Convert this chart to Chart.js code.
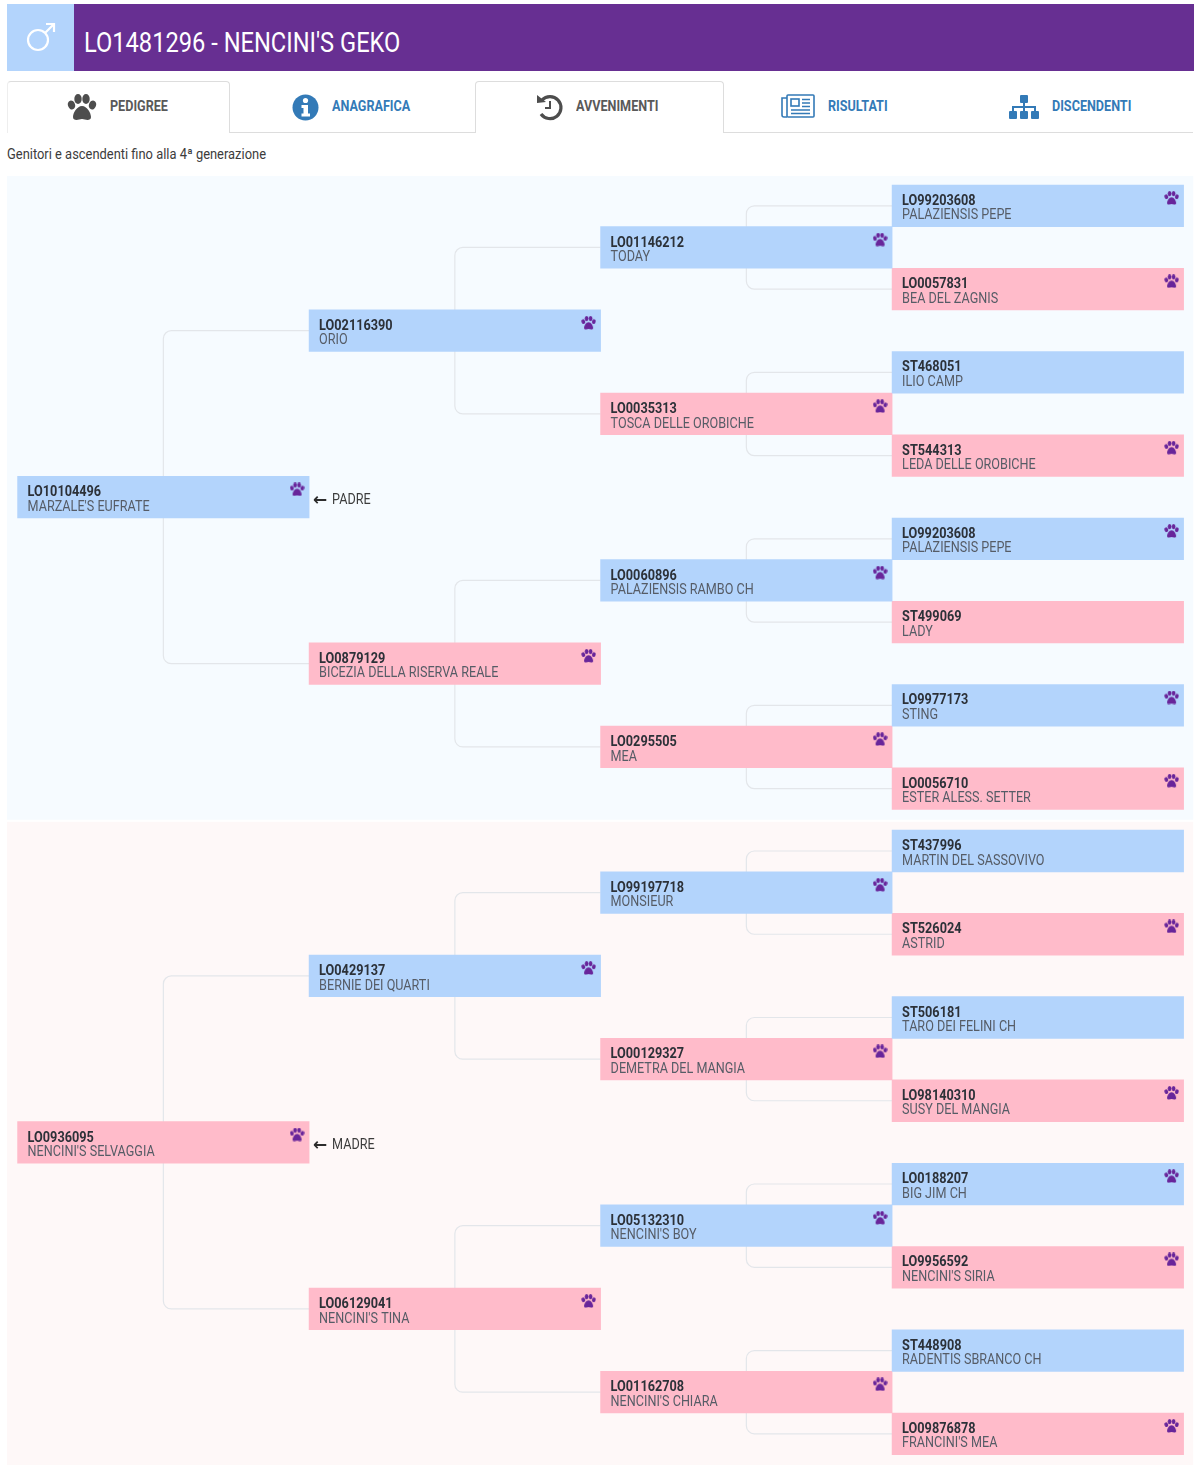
<!DOCTYPE html>
<html>
<head>
<meta charset="utf-8">
<title>Pedigree</title>
<script src="https://cdn.jsdelivr.net/npm/chart.js@4"></script>
<style>
html, body { margin: 0; background: #fff; }
#page { position: relative; width: 1200px; height: 1465px; overflow: hidden; font-family: Roboto, sans-serif; }
#page > div, #page > svg, #page > canvas { position: absolute; }
.t { white-space: nowrap; transform-origin: left center; line-height: 1; }
.tab { font-weight: 700; font-size: 14px; top: 99px; color: #337ab7; transform: scaleX(.9); }
.tab.on { color: #595959; }
.box { box-sizing: border-box; top: 81px; height: 52px; background: #fff; }
</style>
</head>
<body>
<div id="page">
  <div style="left:7px;top:4px;width:67px;height:66.5px;background:#b3d4fc"></div>
  <div style="left:74px;top:4px;width:1119.5px;height:66.5px;background:#672f92"></div>
  <svg style="left:24px;top:22px" width="32" height="32" viewBox="0 0 32 32" fill="none" stroke="#fff" stroke-width="2.2">
    <circle cx="14" cy="18" r="10"/><path d="M21 11 L30 2 M22 2 H30 V10"/>
  </svg>
  <div class="t" style="left:84px;top:29px;font-size:28px;color:#fff;transform:scaleX(.845)">LO1481296 - NENCINI'S GEKO</div>

  <div style="left:7px;top:132px;width:1186px;height:1px;background:#dddddd"></div>
  <div class="box" style="left:7px;width:223px;border:1px solid #dddddd;border-bottom:none;border-left-color:#eeeeee;border-radius:4px 4px 0 0"></div>
  <div class="box" style="left:475px;width:249px;border:1px solid #dddddd;border-bottom:none;border-radius:4px 4px 0 0"></div>

  <svg style="left:67px;top:94px" width="30" height="27" viewBox="0 0 30 27" fill="#4d4d4d">
    <ellipse cx="4.5" cy="11" rx="3.6" ry="4.6" transform="rotate(-18 4.5 11)"/>
    <ellipse cx="11" cy="5" rx="3.7" ry="5"/><ellipse cx="19" cy="5" rx="3.7" ry="5"/>
    <ellipse cx="25.5" cy="11" rx="3.6" ry="4.6" transform="rotate(18 25.5 11)"/>
    <path d="M15 12 C10 12 6 19 6 23 C6 27 11 26 15 25 C19 26 24 27 24 23 C24 19 20 12 15 12Z"/>
  </svg>
  <div class="t tab on" style="left:110px">PEDIGREE</div>

  <svg style="left:292px;top:94px" width="27" height="27" viewBox="0 0 27 27">
    <circle cx="13.5" cy="13.5" r="13" fill="#337ab7"/>
    <circle cx="13.5" cy="6.5" r="2.6" fill="#fff"/>
    <path d="M9.5 11 H16 V19.5 H18 V22.5 H9.5 V19.5 H11.5 V14 H9.5Z" fill="#fff"/>
  </svg>
  <div class="t tab" style="left:332px">ANAGRAFICA</div>

  <svg style="left:536px;top:93px" width="28" height="28" viewBox="0 0 28 28" fill="none" stroke="#4d4d4d" stroke-width="3.2">
    <path d="M6 7 A11 11 0 1 1 5 21"/><path d="M14 8 V15 H9" stroke-width="2"/>
    <path d="M1 2 L10 9 L1 10Z" fill="#4d4d4d" stroke="none"/>
  </svg>
  <div class="t tab on" style="left:576px">AVVENIMENTI</div>

  <svg style="left:781px;top:94px" width="34" height="24" viewBox="0 0 34 24" fill="none" stroke="#337ab7" stroke-width="1.6">
    <rect x="6" y="1" width="27" height="22" rx="1"/><path d="M6 23 H3 Q1 23 1 21 V4 H6"/>
    <rect x="10" y="5" width="8" height="7"/><path d="M21 5.5 H29 M21 9 H29 M21 12.5 H29 M10 16 H29 M10 19.5 H29"/>
  </svg>
  <div class="t tab" style="left:828px">RISULTATI</div>

  <svg style="left:1009px;top:95px" width="30" height="25" viewBox="0 0 30 25" fill="#337ab7">
    <rect x="11" y="0" width="8" height="8" rx="1"/><rect x="0" y="16" width="8" height="8" rx="1"/>
    <rect x="11" y="16" width="8" height="8" rx="1"/><rect x="22" y="16" width="8" height="8" rx="1"/>
    <path d="M14 8 H16 V11 H27 V16 H25 V13 H16 V16 H14 V13 H5 V16 H3 V11 H14Z"/>
  </svg>
  <div class="t tab" style="left:1052px">DISCENDENTI</div>

  <div class="t" style="left:7px;top:148px;font-size:14.5px;color:#3c3c3c;transform:scaleX(.89)">Genitori e ascendenti fino alla 4ª generazione</div>

  <canvas id="tree" width="1200" height="1289" style="left:0;top:176px"></canvas>
</div>

<script>
const nodeIds = [
  "LO99203608", "LO01146212", "LO0057831", "LO02116390", "ST468051", "LO0035313", "ST544313", "LO10104496",
  "LO99203608", "LO0060896", "ST499069", "LO0879129", "LO9977173", "LO0295505", "LO0056710",
  "ST437996", "LO99197718", "ST526024", "LO0429137", "ST506181", "LO00129327", "LO98140310", "LO0936095",
  "LO0188207", "LO05132310", "LO9956592", "LO06129041", "ST448908", "LO01162708", "LO09876878"
];
const nodeNames = [
  "PALAZIENSIS PEPE", "TODAY", "BEA DEL ZAGNIS", "ORIO", "ILIO CAMP", "TOSCA DELLE OROBICHE", "LEDA DELLE OROBICHE", "MARZALE'S EUFRATE",
  "PALAZIENSIS PEPE", "PALAZIENSIS RAMBO CH", "LADY", "BICEZIA DELLA RISERVA REALE", "STING", "MEA", "ESTER ALESS. SETTER",
  "MARTIN DEL SASSOVIVO", "MONSIEUR", "ASTRID", "BERNIE DEI QUARTI", "TARO DEI FELINI CH", "DEMETRA DEL MANGIA", "SUSY DEL MANGIA", "NENCINI'S SELVAGGIA",
  "BIG JIM CH", "NENCINI'S BOY", "NENCINI'S SIRIA", "NENCINI'S TINA", "RADENTIS SBRANCO CH", "NENCINI'S CHIARA", "FRANCINI'S MEA"
];
const nodeSex = [
  "M", "M", "F", "M", "M", "F", "F", "M", "M", "M", "F", "F", "M", "F", "F",
  "M", "M", "F", "M", "M", "F", "F", "F", "M", "M", "F", "F", "M", "F", "F"
];
const nodeColumns = [
  3, 2, 3, 1, 3, 2, 3, 0, 3, 2, 3, 1, 3, 2, 3,
  3, 2, 3, 1, 3, 2, 3, 0, 3, 2, 3, 1, 3, 2, 3
];
const nodeRows = [
  0, 1, 2, 3, 4, 5, 6, 7, 8, 9, 10, 11, 12, 13, 14,
  15.5, 16.5, 17.5, 18.5, 19.5, 20.5, 21.5, 22.5, 23.5, 24.5, 25.5, 26.5, 27.5, 28.5, 29.5
];
const nodeParents = [
  1, 3, 1, 7, 5, 3, 5, -1, 9, 11, 9, 7, 13, 11, 13,
  16, 18, 16, 22, 20, 18, 20, -1, 24, 26, 24, 22, 28, 26, 28
];
const nodeHasPaw = [
  1, 1, 1, 1, 0, 1, 1, 1, 1, 1, 0, 1, 1, 1, 1,
  0, 1, 1, 1, 0, 1, 1, 1, 1, 1, 1, 1, 0, 1, 1
];
const rootLabels = ["PADRE", "MADRE"];
const rootRows = [7, 22.5];

const maleColor = "#b3d4fc";
const femaleColor = "#ffbbca";
const pawColor = "#68259a";
const lineColor = "#e3e6ea";
const colPx = 291.5;
const rowPx = 41.63;

// paw image used as point style
function makePaw() {
  const c = document.createElement("canvas");
  c.width = 15;
  c.height = 14;
  const g = c.getContext("2d");
  g.fillStyle = pawColor;
  g.scale(15 / 30, 14 / 27);
  [[4.5, 11, 3.6, 4.6, -0.3], [11, 5, 3.7, 5, 0], [19, 5, 3.7, 5, 0], [25.5, 11, 3.6, 4.6, 0.3]].forEach(e => {
    g.beginPath();
    g.ellipse(e[0], e[1], e[2], e[3], e[4], 0, Math.PI * 2);
    g.fill();
  });
  g.beginPath();
  g.moveTo(15, 12);
  g.bezierCurveTo(10, 12, 6, 19, 6, 23);
  g.bezierCurveTo(6, 27, 11, 26, 15, 25);
  g.bezierCurveTo(19, 26, 24, 27, 24, 23);
  g.bezierCurveTo(24, 19, 20, 12, 15, 12);
  g.fill();
  return c;
}

function barsFor(sex, color) {
  const data = [];
  nodeIds.forEach((id, i) => {
    if (nodeSex[i] === sex) data.push({ x: [nodeColumns[i], nodeColumns[i] + 1], y: nodeRows[i] });
  });
  return {
    type: "bar",
    indexAxis: "y",
    data: data,
    backgroundColor: color,
    borderWidth: 0,
    barThickness: rowPx,
    grouped: false
  };
}

const pawPoints = [];
nodeIds.forEach((id, i) => {
  if (nodeHasPaw[i]) pawPoints.push({ x: nodeColumns[i] + 1 - 12 / colPx, y: nodeRows[i] - 7.8 / rowPx });
});

function squeezedText(ctx, text, x, y, font, color, sx) {
  ctx.save();
  ctx.translate(x, y);
  ctx.scale(sx, 1);
  ctx.font = font;
  ctx.fillStyle = color;
  ctx.textBaseline = "middle";
  ctx.fillText(text, 0, 0);
  ctx.restore();
}

const backdrop = {
  id: "backdrop",
  beforeDatasetsDraw(chart) {
    const { ctx, scales: { x, y } } = chart;
    const left = x.getPixelForValue(-10.6 / colPx);
    const right = x.getPixelForValue(1175.6 / colPx);
    ctx.save();
    ctx.fillStyle = "#f6fbff";
    ctx.fillRect(left, y.getPixelForValue(-0.716), right - left, y.getPixelForValue(14.75) - y.getPixelForValue(-0.716));
    ctx.fillStyle = "#fef8f8";
    ctx.fillRect(left, y.getPixelForValue(14.8), right - left, y.getPixelForValue(30.25) - y.getPixelForValue(14.8));

    // connectors: down from the middle of the parent, across to the child
    ctx.strokeStyle = lineColor;
    ctx.lineWidth = 1.2;
    nodeParents.forEach((p, i) => {
      if (p < 0) return;
      const px = x.getPixelForValue(nodeColumns[p] + 0.5);
      const py = y.getPixelForValue(nodeRows[p]);
      const cx = x.getPixelForValue(nodeColumns[i]);
      const cy = y.getPixelForValue(nodeRows[i]);
      ctx.beginPath();
      ctx.moveTo(px, py);
      ctx.arcTo(px, cy, cx, cy, 8);
      ctx.lineTo(cx, cy);
      ctx.stroke();
    });
    ctx.restore();
  }
};

const nodeText = {
  id: "nodeText",
  afterDatasetsDraw(chart) {
    const { ctx, scales: { x, y } } = chart;
    nodeIds.forEach((id, i) => {
      const tx = x.getPixelForValue(nodeColumns[i]) + 10;
      const ty = y.getPixelForValue(nodeRows[i]);
      squeezedText(ctx, id, tx, ty - 4.5, "700 14.5px Roboto", "#2c3138", 0.876);
      squeezedText(ctx, nodeNames[i], tx, ty + 10, "400 14.5px Roboto", "#565c66", 0.87);
    });
    rootLabels.forEach((label, i) => {
      const tx = x.getPixelForValue(1);
      const ty = y.getPixelForValue(rootRows[i]) + 3;
      squeezedText(ctx, "←", tx + 4, ty, "700 17px 'DejaVu Sans'", "#2c2c2c", 1);
      squeezedText(ctx, label, tx + 23, ty, "400 14.5px Roboto", "#3c3c3c", 0.87);
    });
  }
};

new Chart(document.getElementById("tree"), {
  type: "bar",
  data: {
    datasets: [
      { type: "scatter", data: pawPoints, pointStyle: makePaw(), pointRadius: 8 },
      barsFor("M", maleColor),
      barsFor("F", femaleColor)
    ]
  },
  options: {
    responsive: false,
    animation: false,
    devicePixelRatio: 1,
    events: [],
    layout: { padding: 0, autoPadding: false },
    plugins: { legend: { display: false }, tooltip: { enabled: false } },
    scales: {
      x: { type: "linear", display: false, offset: false, min: -17.6 / colPx, max: 1182.4 / colPx },
      y: { type: "linear", display: false, offset: false, reverse: true, min: -0.716, max: 30.25 }
    }
  },
  plugins: [backdrop, nodeText]
});
</script>
</body>
</html>
